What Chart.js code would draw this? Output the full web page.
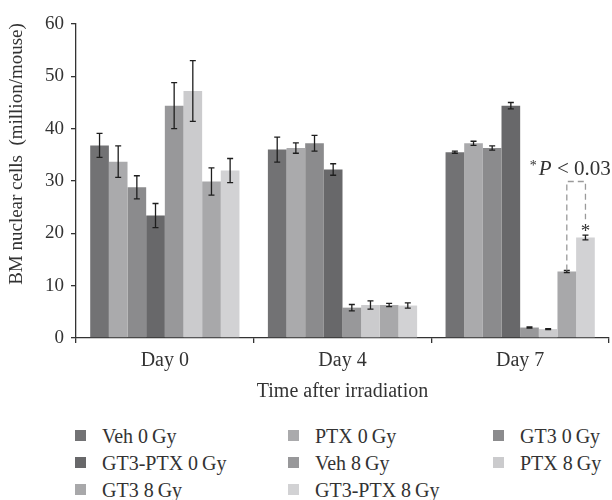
<!DOCTYPE html>
<html>
<head>
<meta charset="utf-8">
<script src="https://cdn.jsdelivr.net/npm/chart.js@4"></script>
<style>
  body { margin: 0; background: #fff; }
  #wrap { position: relative; width: 612px; height: 500px; }
  #chart-box { position: absolute; left: 0; top: 0; width: 612px; height: 410px; }
  .legend-item { position: absolute; font-family: "Liberation Serif", serif; font-size: 20px; color: #333; line-height: 20px; white-space: nowrap; }
  .legend-item span.box { position: absolute; width: 11px; height: 11px; top: 4px; }
</style>
</head>
<body>
<div id="wrap">
  <div id="chart-box"><canvas id="bm-chart" width="612" height="410"></canvas></div>
  <div id="legend"></div>
</div>
<script>
const days = ["Day 0", "Day 4", "Day 7"];
const seriesLabels = [
  "Veh 0\u2009Gy", "PTX 0\u2009Gy", "GT3 0\u2009Gy", "GT3-PTX 0\u2009Gy",
  "Veh 8\u2009Gy", "PTX 8\u2009Gy", "GT3 8\u2009Gy", "GT3-PTX 8\u2009Gy"
];
const seriesColors = ["#727274", "#aaaaac", "#8b8b8d", "#68686a", "#98989a", "#cbcbcd", "#a8a8aa", "#d2d2d4"];

// mean values per series, one per day
const veh0 = [36.8, 36.0, 35.5];
const ptx0 = [33.7, 36.3, 37.2];
const gt30 = [28.8, 37.2, 36.3];
const gt3ptx0 = [23.4, 32.2, 44.4];
const veh8 = [44.4, 5.8, 2.0];
const ptx8 = [47.2, 6.3, 1.7];
const gt38 = [29.9, 6.3, 12.7];
const gt3ptx8 = [32.0, 6.2, 19.2];

// error bar half-lengths
const veh0Err = [2.3, 2.4, 0.2];
const ptx0Err = [3.0, 1.0, 0.4];
const gt30Err = [2.2, 1.5, 0.4];
const gt3ptx0Err = [2.3, 1.1, 0.6];
const veh8Err = [4.4, 0.6, 0.1];
const ptx8Err = [5.8, 0.8, 0.1];
const gt38Err = [2.6, 0.3, 0.2];
const gt3ptx8Err = [2.3, 0.5, 0.45];

const yTicks = [0, 10, 20, 30, 40, 50, 60];
const yTitle = "BM nuclear cells  (million/mouse)";
const xTitle = "Time after irradiation";
const pText = "P < 0.03";
const bracketTop = 29.9;   // value where the dashed bracket sits

const allValues = [veh0, ptx0, gt30, gt3ptx0, veh8, ptx8, gt38, gt3ptx8];
const allErrors = [veh0Err, ptx0Err, gt30Err, gt3ptx0Err, veh8Err, ptx8Err, gt38Err, gt3ptx8Err];

const textColor = '#333';
const serif = '"Liberation Serif", serif';

const errorBarPlugin = {
  id: 'errorBars',
  afterDatasetsDraw(chart) {
    const ctx = chart.ctx;
    const y = chart.scales.y;
    ctx.save();
    ctx.strokeStyle = '#1e1e1e';
    ctx.lineWidth = 1.3;
    chart.data.datasets.forEach((ds, i) => {
      const meta = chart.getDatasetMeta(i);
      meta.data.forEach((bar, j) => {
        const v = ds.data[j], e = allErrors[i][j];
        const top = y.getPixelForValue(v + e);
        const bot = y.getPixelForValue(v - e);
        ctx.beginPath();
        ctx.moveTo(bar.x, top); ctx.lineTo(bar.x, bot);
        ctx.moveTo(bar.x - 3, top); ctx.lineTo(bar.x + 3, top);
        ctx.moveTo(bar.x - 3, bot); ctx.lineTo(bar.x + 3, bot);
        ctx.stroke();
      });
    });
    ctx.restore();
  }
};

const annotationPlugin = {
  id: 'pAnnotation',
  afterDatasetsDraw(chart) {
    const ctx = chart.ctx;
    const y = chart.scales.y;
    const left = chart.getDatasetMeta(6).data[2];
    const right = chart.getDatasetMeta(7).data[2];
    const topPx = y.getPixelForValue(bracketTop);
    const errTop = y.getPixelForValue(gt3ptx8[2] + gt3ptx8Err[2]);
    ctx.save();
    ctx.strokeStyle = '#9a9a9a';
    ctx.lineWidth = 1.3;
    ctx.setLineDash([6, 4]);
    ctx.beginPath();
    ctx.moveTo(left.x, y.getPixelForValue(gt38[2]) - 1);
    ctx.lineTo(left.x, topPx);
    ctx.lineTo(right.x, topPx);
    ctx.lineTo(right.x, errTop - 16);
    ctx.stroke();
    ctx.setLineDash([]);
    ctx.fillStyle = textColor;
    ctx.textAlign = 'center';
    ctx.textBaseline = 'alphabetic';
    ctx.font = '19px ' + serif;
    ctx.fillText('*', right.x, errTop + 2);
    // "*P < 0.03"
    ctx.textAlign = 'left';
    const tx = left.x - 37;
    const ty = topPx - 7;
    ctx.font = '14px ' + serif;
    ctx.fillText('*', tx, ty - 5);
    ctx.font = 'italic 21px ' + serif;
    ctx.fillText('P', tx + 9, ty);
    const pw = ctx.measureText('P').width;
    ctx.font = '21px ' + serif;
    ctx.fillText(pText.slice(1), tx + 9 + pw, ty);
    ctx.restore();
  }
};

const yTitlePlugin = {
  id: 'yTitle',
  afterDraw(chart) {
    const ctx = chart.ctx;
    ctx.save();
    ctx.translate(17, 154);
    ctx.rotate(-Math.PI / 2);
    ctx.font = '19px ' + serif;
    ctx.fillStyle = textColor;
    ctx.textAlign = 'center';
    ctx.textBaseline = 'middle';
    ctx.fillText(yTitle, 0, 0);
    ctx.restore();
  }
};

const datasets = seriesLabels.map((label, i) => ({
  label: label,
  data: allValues[i],
  backgroundColor: seriesColors[i],
  borderWidth: 0,
  categoryPercentage: 0.84,
  barPercentage: 1.0
}));

const ctx = document.getElementById('bm-chart').getContext('2d');
new Chart(ctx, {
  type: 'bar',
  data: { labels: days, datasets: datasets },
  options: {
    responsive: false,
    animation: false,
    layout: { padding: { top: 24, right: 3, left: 0, bottom: 0 } },
    plugins: { legend: { display: false }, tooltip: { enabled: false } },
    scales: {
      x: {
        grid: { offset: true, drawOnChartArea: false, drawTicks: true, tickLength: 5, color: '#333', lineWidth: 1.3 },
        border: { color: '#333', width: 1.3 },
        ticks: { color: textColor, font: { family: serif, size: 20 }, padding: 6 },
        title: { display: true, text: xTitle, color: textColor, font: { family: serif, size: 20 }, padding: { top: 4, bottom: 6 } },
        afterFit(scale) { scale.height = 72; }
      },
      y: {
        min: 0, max: 60,
        afterBuildTicks(scale) { scale.ticks = yTicks.map(v => ({ value: v })); },
        grid: { drawOnChartArea: false, drawTicks: true, tickLength: 5, color: '#333', lineWidth: 1.3 },
        border: { color: '#333', width: 1.3 },
        ticks: { color: textColor, font: { family: serif, size: 19 }, padding: 7 },
        afterFit(scale) { scale.width = 76; }
      }
    }
  },
  plugins: [errorBarPlugin, annotationPlugin, yTitlePlugin]
});

// legend in three columns, filled row by row
const legendCols = [75, 288, 493];
const legendRows = [426, 453, 480];
const legendEl = document.getElementById('legend');
seriesLabels.forEach((label, i) => {
  const item = document.createElement('div');
  item.className = 'legend-item';
  item.style.left = legendCols[i % 3] + 'px';
  item.style.top = legendRows[Math.floor(i / 3)] + 'px';
  item.innerHTML = '<span class="box" style="background:' + seriesColors[i] + '"></span>'
    + '<span style="margin-left:27px">' + label + '</span>';
  legendEl.appendChild(item);
});
</script>
</body>
</html>
